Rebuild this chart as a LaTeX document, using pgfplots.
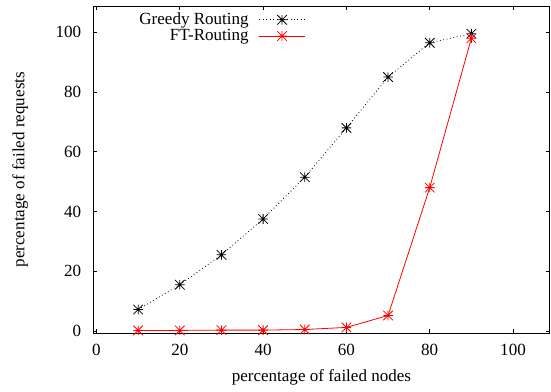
\documentclass[border=0pt]{standalone}
\usepackage{fontspec}
\setmainfont{Liberation Serif}
\usepackage{pgfplots}
\pgfplotsset{compat=1.18}
\pgfdeclareplotmark{gstar}{%
  \pgfpathmoveto{\pgfqpoint{-\pgfplotmarksize}{0pt}}\pgfpathlineto{\pgfqpoint{\pgfplotmarksize}{0pt}}%
  \pgfpathmoveto{\pgfqpoint{0pt}{-\pgfplotmarksize}}\pgfpathlineto{\pgfqpoint{0pt}{\pgfplotmarksize}}%
  \pgfpathmoveto{\pgfqpoint{-\pgfplotmarksize}{-\pgfplotmarksize}}\pgfpathlineto{\pgfqpoint{\pgfplotmarksize}{\pgfplotmarksize}}%
  \pgfpathmoveto{\pgfqpoint{-\pgfplotmarksize}{\pgfplotmarksize}}\pgfpathlineto{\pgfqpoint{\pgfplotmarksize}{-\pgfplotmarksize}}%
  \pgfusepathqstroke}
\begin{document}
\begin{tikzpicture}[font=\fontsize{12.8}{15}\selectfont]
\begin{axis}[
  scale only axis,
  width=343pt, height=246pt,
  xmin=-0.8, xmax=108.8,
  ymin=-0.8, ymax=108.8,
  xtick={0,20,40,60,80,100},
  ytick={0,20,40,60,80,100},
  xticklabels={0,20,40,60,80,100},
  yticklabels={0,20,40,60,80,100},
  tick align=inside,
  major tick length=3pt,
  tick style={black, line width=0.5pt},
  axis line style={line width=0.6pt},
  yticklabel style={xshift=-5.5pt, font=\rmfamily\fontsize{12.8}{15}\selectfont},
  xticklabel style={yshift=-4.5pt, font=\rmfamily\fontsize{12.8}{15}\selectfont},
  xlabel={percentage of failed nodes},
  ylabel={percentage of failed requests},
  xlabel style={at={(axis description cs:0.5,-0.134)}, anchor=center},
  ylabel style={at={(axis description cs:-0.160,0.5)}, anchor=center},
  legend style={draw=none, fill=none, at={(0.468,1)}, anchor=north east,
    yshift=-2pt, row sep=-2pt, inner sep=1pt},
  legend cell align=right,
  legend plot pos=right,
  legend image code/.code={\path (0cm,0cm);\draw[mark repeat=2,mark phase=2,#1] plot coordinates {(0.2cm,0cm) (0.8cm,0cm) (1.4cm,0cm)};},
]
\coordinate (A) at (rel axis cs:0,0);
\coordinate (B) at (rel axis cs:1,1);
\addplot[black, dotted, line width=0.6pt, mark=gstar, mark size=3.6pt, mark options={solid, line width=0.6pt}]
coordinates {(10,7.2) (20,15.5) (30,25.5) (40,37.5) (50,51.5) (60,68) (70,85) (80,96.5) (90,99.5)};
\addlegendentry{Greedy Routing}
\addplot[red, solid, line width=0.6pt, mark=gstar, mark size=3.6pt, mark options={solid, line width=0.6pt}]
coordinates {(10,0.2) (20,0.2) (30,0.3) (40,0.3) (50,0.5) (60,1.2) (70,5.2) (80,48) (90,98)};
\addlegendentry{FT-Routing}
\end{axis}
\pgfresetboundingbox
\path[use as bounding box] ([xshift=-70pt,yshift=-43.5pt]A) rectangle ([xshift=1pt,yshift=4.5pt]B);
\end{tikzpicture}
\end{document}
